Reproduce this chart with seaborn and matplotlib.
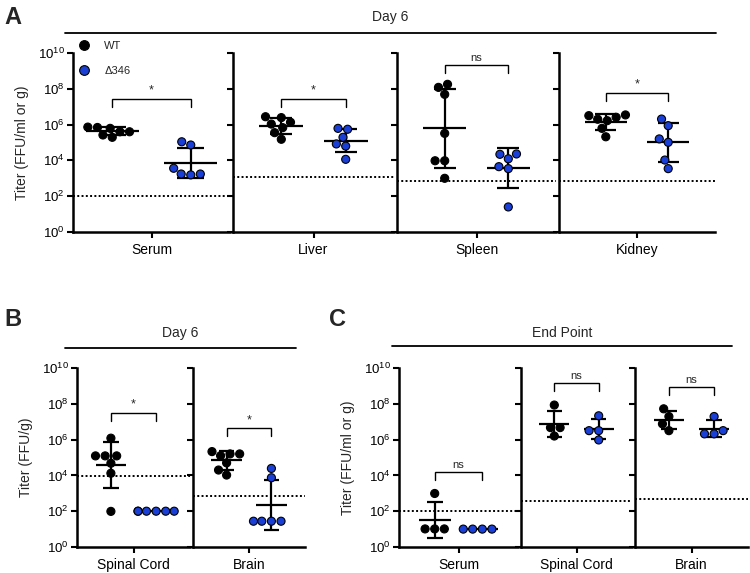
import numpy as np
import pandas as pd
import matplotlib
matplotlib.use("Agg")
import matplotlib.pyplot as plt
from matplotlib.lines import Line2D
import seaborn as sns

sns.set_theme(style="ticks")
plt.rcParams["font.family"] = ["Liberation Sans", "DejaVu Sans"]
plt.rcParams["mathtext.fontset"] = "custom"
plt.rcParams["mathtext.rm"] = "Liberation Sans"
plt.rcParams["mathtext.it"] = "Liberation Sans:italic"
plt.rcParams["mathtext.bf"] = "Liberation Sans:bold"

# ---------------- data (log10 titers) ----------------
groups = ["WT", "Δ346"]
colors = {"WT": "#000000", "Δ346": "#1a3fd6"}

# Panel A: Day 6
A_tissues = ["Serum", "Liver", "Spleen", "Kidney"]
A_serum_wt = [5.79, 5.60, 5.60, 5.84, 5.42, 5.86, 5.29]
A_serum_mut = [3.56, 4.86, 3.24, 5.04, 3.24, 3.19]
A_liver_wt = [6.13, 6.03, 6.44, 5.83, 6.39, 5.55, 5.18]
A_liver_mut = [5.29, 5.74, 5.79, 4.92, 4.80, 4.06]
A_spleen_wt = [7.69, 8.08, 8.25, 5.51, 3.98, 3.98, 3.00]
A_spleen_mut = [4.09, 4.34, 4.36, 3.65, 3.54, 1.40]
A_kidney_wt = [6.41, 6.30, 6.22, 6.50, 6.54, 5.79, 5.32]
A_kidney_mut = [6.31, 5.94, 5.20, 5.01, 4.02, 3.54]
A_lod = [2.0, 3.09, 2.87, 2.87]
A_sig = ["*", "*", "ns", "*"]
A_bracket = [7.43, 7.43, 9.33, 7.77]

# Panel B: Day 6
B_tissues = ["Spinal Cord", "Brain"]
B_spinal_wt = [6.08, 5.09, 5.09, 5.09, 4.68, 4.12, 1.99]
B_spinal_mut = [2.0, 2.0, 2.0, 2.0, 2.0, 2.0]
B_brain_wt = [5.20, 5.20, 5.33, 5.10, 4.30, 4.02, 4.70]
B_brain_mut = [4.39, 3.87, 1.44, 1.44, 1.44, 1.44]
B_lod = [3.98, 2.84]
B_sig = ["*", "*"]
B_bracket = [7.51, 6.64]

# Panel C: End Point
C_tissues = ["Serum", "Spinal Cord", "Brain"]
C_serum_wt = [2.99, 1.01, 1.01, 1.01]
C_serum_mut = [1.0, 1.0, 1.0, 1.0]
C_spinal_wt = [7.93, 6.67, 6.67, 6.20]
C_spinal_mut = [7.33, 6.50, 6.50, 5.98]
C_brain_wt = [7.72, 7.29, 6.88, 6.50]
C_brain_mut = [7.29, 6.50, 6.32, 6.32]
C_lod = [2.0, 2.58, 2.66]
C_sig = ["ns", "ns", "ns"]
C_bracket = [4.17, 9.16, 8.94]

yticks = [1, 1e2, 1e4, 1e6, 1e8, 1e10]

W, H = 750, 573
fig = plt.figure(figsize=(W / 100, H / 100), dpi=100)


def rect(x0, x1, ytop, ybot):
    return [x0 / W, 1 - ybot / H, (x1 - x0) / W, (ybot - ytop) / H]


def draw_panel(ax, tissue, wt, mut, lod, sig, br, xlim, first, ylabel):
    df = pd.DataFrame({
        "group": [groups[0]] * len(wt) + [groups[1]] * len(mut),
        "titer": 10 ** np.array(list(wt) + list(mut)),
    })
    ax.set_yscale("log")
    ax.set_ylim(1, 1e10)
    ax.set_xlim(*xlim)
    # limit of detection
    ax.axhline(10 ** lod, color="black", linestyle=(0, (1, 1.2)), linewidth=1.4, zorder=1)
    # mean +/- SD (log space)
    for i, vals in enumerate([wt, mut]):
        v = np.array(vals)
        m = v.mean()
        s = v.std(ddof=1)
        ax.hlines(10 ** m, i - 0.34, i + 0.34, color="black", linewidth=1.6, zorder=2)
        if s > 0:
            ax.vlines(i, 10 ** (m - s), 10 ** (m + s), color="black", linewidth=1.6, zorder=2)
            ax.hlines([10 ** (m - s), 10 ** (m + s)], i - 0.17, i + 0.17,
                      color="black", linewidth=1.6, zorder=2)
    sns.swarmplot(data=df, x="group", y="titer", hue="group", order=groups,
                  hue_order=groups, palette=colors, size=5.8, edgecolor="black",
                  linewidth=0.8, legend=False, ax=ax, zorder=3, warn_thresh=1)
    ax.set_xlim(*xlim)
    # significance bracket
    top = 10 ** br
    leg = 10 ** (br - 0.45)
    ax.plot([0, 0, 1, 1], [leg, top, top, leg], color="black", linewidth=1.0,
            solid_joinstyle="miter", zorder=2)
    ax.text(0.5, 10 ** (br + 0.12), sig, ha="center", va="bottom",
            fontsize=8 if sig == "ns" else 9)
    ax.set_xticks([0.5])
    ax.set_xticklabels([tissue], fontsize=10)
    ax.set_xlabel("")
    ax.set_yticks(yticks)
    ax.minorticks_off()
    ax.yaxis.set_minor_locator(matplotlib.ticker.NullLocator())
    ax.tick_params(axis="both", direction="out", length=4, width=1.5, colors="black",
                   labelsize=9.5, pad=2)
    ax.tick_params(axis="x", labelsize=10, pad=4)
    for sp in ["top", "right"]:
        ax.spines[sp].set_visible(False)
    for sp in ["left", "bottom"]:
        ax.spines[sp].set_linewidth(1.8)
        ax.spines[sp].set_color("black")
    ax.set_facecolor("white")
    if first:
        ax.set_ylabel(ylabel, fontsize=10, labelpad=6)
    else:
        ax.set_ylabel("")
        ax.tick_params(axis="y", labelleft=False)


# ---------------- Panel A ----------------
A_x = [(73, 230), (233, 394), (397, 556), (559, 715)]
A_wt = [A_serum_wt, A_liver_wt, A_spleen_wt, A_kidney_wt]
A_mut = [A_serum_mut, A_liver_mut, A_spleen_mut, A_kidney_mut]
A_xlims = [(-0.5, 1.5), (-0.75, 1.75), (-0.75, 1.75), (-0.75, 1.75)]
for k, t in enumerate(A_tissues):
    ax = fig.add_axes(rect(A_x[k][0], A_x[k][1], 53, 232))
    draw_panel(ax, t, A_wt[k], A_mut[k], A_lod[k], A_sig[k], A_bracket[k],
               A_xlims[k], k == 0, "Titer (FFU/ml or g)")
    if k == 0:
        handles = [Line2D([], [], marker="o", linestyle="", markersize=7,
                          markerfacecolor=colors[g], markeredgecolor="black",
                          markeredgewidth=0.8) for g in groups]
        ax.legend(handles, groups, loc="upper left", bbox_to_anchor=(72 / W, 1 - 35 / H),
                  bbox_transform=fig.transFigure, frameon=False, fontsize=8,
                  handletextpad=1.2, labelspacing=1.4, borderpad=0, handlelength=1.2)

# ---------------- Panel B ----------------
B_x = [(77, 190), (193, 305)]
B_wt = [B_spinal_wt, B_brain_wt]
B_mut = [B_spinal_mut, B_brain_mut]
for k, t in enumerate(B_tissues):
    ax = fig.add_axes(rect(B_x[k][0], B_x[k][1], 368, 547))
    draw_panel(ax, t, B_wt[k], B_mut[k], B_lod[k], B_sig[k], B_bracket[k],
               (-0.75, 1.75), k == 0, "Titer (FFU/g)")

# ---------------- Panel C ----------------
C_x = [(399, 518), (521, 632), (635, 748)]
C_wt = [C_serum_wt, C_spinal_wt, C_brain_wt]
C_mut = [C_serum_mut, C_spinal_mut, C_brain_mut]
for k, t in enumerate(C_tissues):
    ax = fig.add_axes(rect(C_x[k][0], C_x[k][1], 368, 547))
    draw_panel(ax, t, C_wt[k], C_mut[k], C_lod[k], C_sig[k], C_bracket[k],
               (-0.75, 1.75), k == 0, "Titer (FFU/ml or g)")

# ---------------- headers ----------------
def header(x0, x1, y_line, y_text, label):
    fig.add_artist(Line2D([x0 / W, x1 / W], [1 - y_line / H, 1 - y_line / H],
                          color="black", linewidth=1.3, transform=fig.transFigure))
    fig.text((x0 + x1) / 2 / W, 1 - y_text / H, label, ha="center", va="center", fontsize=10)


header(65, 716, 33, 17, "Day 6")
header(65, 296, 348, 333, "Day 6")
header(392, 732, 346, 333, "End Point")

fig.text(13 / W, 1 - 17 / H, "A", fontsize=17, fontweight="bold", ha="center", va="center")
fig.text(13 / W, 1 - 320 / H, "B", fontsize=17, fontweight="bold", ha="center", va="center")
fig.text(338 / W, 1 - 320 / H, "C", fontsize=17, fontweight="bold", ha="center", va="center")

fig.savefig("out.png", dpi=100, facecolor="white")
